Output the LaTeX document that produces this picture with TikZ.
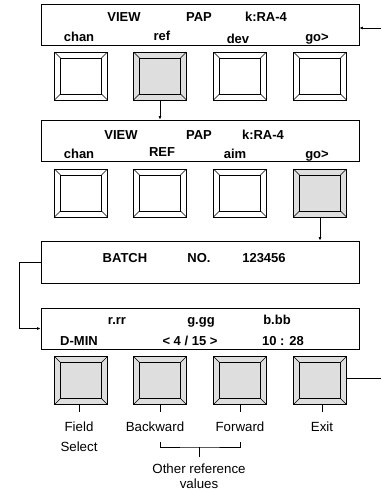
\documentclass[tikz,border=0pt]{standalone}
\usepackage{fontspec}
\setmainfont{Liberation Sans}
\usetikzlibrary{arrows.meta,calc}
\begin{document}
\begin{tikzpicture}[x=1pt,y=1pt,
 disp/.style={draw, line width=0.8pt, minimum width=318pt, minimum height=41pt, inner sep=0pt},
 btn/.style={draw, line width=0.6pt, minimum width=53pt, minimum height=48pt, inner sep=0pt,
   path picture={
     \draw[line width=0.6pt] ([shift={(6pt,6pt)}]path picture bounding box.south west) rectangle ([shift={(-6pt,-6pt)}]path picture bounding box.north east);
     \draw[line width=0.6pt] (path picture bounding box.south west) -- ++(6pt,6pt)
       (path picture bounding box.north west) -- ++(6pt,-6pt)
       (path picture bounding box.north east) -- ++(-6pt,-6pt)
       (path picture bounding box.south east) -- ++(-6pt,6pt);
   }},
 sel/.style={fill=black!13},
 dt/.style={font=\fontsize{13}{14}\selectfont\bfseries, inner sep=0pt, anchor=base},
 lbl/.style={font=\fontsize{13.3}{20}\selectfont, align=center, inner xsep=0pt, inner ysep=10pt, anchor=north},
 arr/.style={line width=0.7pt, -{Latex[length=3.5pt,width=3pt]}},
 con/.style={line width=0.7pt}]
\useasboundingbox (0,0) rectangle (381,-490);
% displays
\node[disp] (d1) at (200,-24.5) {};
\node[disp] (d2) at (200,-140.5) {};
\node[disp, minimum height=42pt] (d3) at (200,-262) {};
\node[disp] (d4) at (200,-328.5) {};
% buttons
\node[btn] (b11) at (81,-76) {};
\node[btn, sel] (b12) at (160,-76) {};
\node[btn] (b13) at (240,-76) {};
\node[btn] (b14) at (320,-76) {};
\node[btn] (b21) at (81,-193) {};
\node[btn] (b22) at (160,-193) {};
\node[btn] (b23) at (240,-193) {};
\node[btn, sel] (b24) at (320,-193) {};
\node[btn, sel] (b31) at (81,-380.5) {};
\node[btn, sel] (b32) at (160,-380.5) {};
\node[btn, sel] (b33) at (240,-380.5) {};
\node[btn, sel] (b34) at (320,-380.5) {};
% display 1 texts
\node[dt] (t11) at (124,-21.7) {VIEW};
\node[dt] (t12) at (199,-21.7) {PAP};
\node[dt] (t13) at (266,-21.7) {k:RA-4};
\node[dt] (t14) at (79,-41.5) {chan};
\node[dt] (t15) at (162,-40.5) {ref};
\node[dt] (t16) at (238,-43) {dev};
\node[dt] (t17) at (317,-41.5) {go>};
% display 2 texts
\node[dt] (t21) at (121,-139) {VIEW};
\node[dt] (t22) at (199,-139) {PAP};
\node[dt] (t23) at (263,-139) {k:RA-4};
\node[dt] (t24) at (79,-158.3) {chan};
\node[dt] (t25) at (162,-156.7) {REF};
\node[dt] (t26) at (235,-158.3) {aim};
\node[dt] (t27) at (317,-158.3) {go>};
% display 3 texts
\node[dt] (t31) at (125,-262.3) {BATCH};
\node[dt] (t32) at (199,-262.3) {NO.};
\node[dt] (t33) at (264,-262.3) {123456};
% display 4 texts
\node[dt] (t41) at (117,-324) {r.rr};
\node[dt] (t42) at (201,-324) {g.gg};
\node[dt] (t43) at (277,-324) {b.bb};
\node[dt] (t44) at (79,-345.5) {D-MIN};
\node[dt] (t45) at (190,-345.5) {< 4 / 15 >};
\node[dt] (t46) at (283,-345.5) {10 : 28};
% labels
\node[lbl] (lfield) at (79,-412) {Field\\Select};
\node[lbl] (lback) at (155,-412) {Backward};
\node[lbl] (lfwd) at (240,-412) {Forward};
\node[lbl] (lexit) at (322,-412) {Exit};
\node[lbl, inner ysep=6.3pt, font=\fontsize{13.3}{15}\selectfont] (lother) at (199,-457) {Other reference\\values};
% connectors
\draw[arr] (b12.south) -- (b12.south |- d2.north);
\draw[arr] (b24.south) -- (b24.south |- d3.north);
\coordinate (lx) at (19,0);
\draw[arr] (d3.west) -- (lx |- d3.west) -- (lx |- d4.west) -- (d4.west);
\coordinate (rt) at (381,-28);
\draw[arr] (rt) -- (rt -| d1.east);
\coordinate (rb) at (381,-378);
\draw[con] (rb -| b34.east) -- (rb);
% ticks
\draw[con] (b31.south -| lfield.north) -- (lfield.north);
\draw[con] (b32.south) -- (b32.south |- lback.north);
\draw[con] (b33.south) -- (b33.south |- lfwd.north);
\draw[con] (b34.south -| lexit.north) -- (lexit.north);
\coordinate (bm) at (199,-447);
\draw[con] (b32.south |- lback.south) |- (bm) -| (b33.south |- lfwd.south);
\draw[con] (bm) -- (lother.north);
\end{tikzpicture}
\end{document}
